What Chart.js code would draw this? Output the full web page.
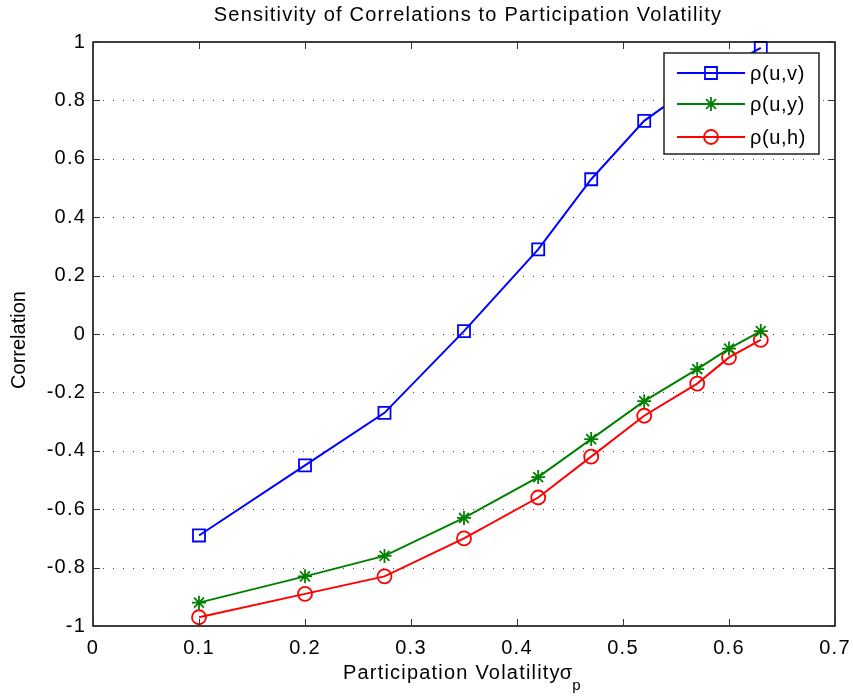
<!DOCTYPE html>
<html>
<head>
<meta charset="utf-8">
<script src="https://cdn.jsdelivr.net/npm/chart.js@4/dist/chart.umd.min.js"></script>
<style>
html,body{margin:0;padding:0;background:#fff;}
#wrap{width:853px;height:697px;position:relative;}
</style>
</head>
<body>
<div id="wrap"><canvas id="c" width="853" height="697"></canvas></div>
<script>
const sigmaP = [0.1, 0.2, 0.275, 0.35, 0.42, 0.47, 0.52, 0.57, 0.6, 0.63];
const rhoUV = [-0.69, -0.45, -0.27, 0.01, 0.29, 0.53, 0.73, 0.86, 0.92, 0.98];
const rhoUY = [-0.92, -0.83, -0.76, -0.63, -0.49, -0.36, -0.23, -0.12, -0.05, 0.01];
const rhoUH = [-0.97, -0.89, -0.83, -0.70, -0.56, -0.42, -0.28, -0.17, -0.08, -0.02];
const xTickLabels = ['0', '0.1', '0.2', '0.3', '0.4', '0.5', '0.6', '0.7'];
const yTickLabels = ['-1', '-0.8', '-0.6', '-0.4', '-0.2', '0', '0.2', '0.4', '0.6', '0.8', '1'];
const seriesNames = ['ρ(u,v)', 'ρ(u,y)', 'ρ(u,h)'];
const titleText = 'Sensitivity of Correlations to Participation Volatility';
const xLabelText = 'Participation Volatility';
const yLabelText = 'Correlation';

const FONT = '"Liberation Sans", Arial, Helvetica, sans-serif';
const FS = 20;
const SP = '1.2px';
const colors = ['#0000ff', '#008000', '#ff0000'];
const styles = ['rect', 'star', 'circle'];
const radii = [8.5, 7, 7];

function mk(vals, i) {
  return {
    label: seriesNames[i],
    data: sigmaP.map((x, k) => ({x: x, y: vals[k]})),
    borderColor: colors[i],
    backgroundColor: 'rgba(0,0,0,0)',
    pointBackgroundColor: 'rgba(0,0,0,0)',
    pointBorderColor: colors[i],
    pointStyle: styles[i],
    pointRadius: radii[i],
    pointHoverRadius: radii[i],
    pointBorderWidth: 1.8,
    borderWidth: 2,
    tension: 0,
    clip: false
  };
}

const matlabPlugin = {
  id: 'matlab',
  beforeUpdate(chart) { chart.ctx.letterSpacing = SP; },
  beforeDraw(chart) { chart.ctx.letterSpacing = SP; },
  beforeDatasetsDraw(chart) {
    const {ctx, chartArea: a, scales: {x, y}} = chart;
    ctx.save();
    ctx.strokeStyle = '#444';
    ctx.lineWidth = 1;
    ctx.setLineDash([1, 9]);
    yTickLabels.forEach(l => {
      const v = parseFloat(l);
      if (v <= -1 || v >= 1) return;
      const py = Math.round(y.getPixelForValue(v)) + 0.5;
      ctx.beginPath(); ctx.moveTo(a.left, py); ctx.lineTo(a.right, py); ctx.stroke();
    });
    ctx.restore();
  },
  afterDatasetsDraw(chart) {
    const {ctx, chartArea: a, scales: {x, y}} = chart;
    ctx.save();
    ctx.strokeStyle = '#000';
    ctx.lineWidth = 1.5;
    ctx.setLineDash([]);
    ctx.strokeRect(a.left, a.top, a.right - a.left, a.bottom - a.top);
    ctx.lineWidth = 1;
    ctx.strokeStyle = '#333';
    const tl = 7;
    xTickLabels.forEach(l => {
      const px = Math.round(x.getPixelForValue(parseFloat(l))) + 0.5;
      ctx.beginPath();
      ctx.moveTo(px, a.bottom); ctx.lineTo(px, a.bottom - tl);
      ctx.moveTo(px, a.top); ctx.lineTo(px, a.top + tl);
      ctx.stroke();
    });
    yTickLabels.forEach(l => {
      const py = Math.round(y.getPixelForValue(parseFloat(l))) + 0.5;
      ctx.beginPath();
      ctx.moveTo(a.left, py); ctx.lineTo(a.left + tl, py);
      ctx.moveTo(a.right, py); ctx.lineTo(a.right - tl, py);
      ctx.stroke();
    });
    // legend
    const L = {x0: 664, y0: 53, x1: 819, y1: 154};
    ctx.fillStyle = '#fff';
    ctx.fillRect(L.x0, L.y0, L.x1 - L.x0, L.y1 - L.y0);
    ctx.strokeStyle = '#222';
    ctx.lineWidth = 1.5;
    ctx.strokeRect(L.x0, L.y0, L.x1 - L.x0, L.y1 - L.y0);
    const rows = [73, 104, 137];
    ctx.font = FS + 'px ' + FONT;
    ctx.letterSpacing = '0.6px';
    ctx.textBaseline = 'middle';
    ctx.textAlign = 'left';
    chart.data.datasets.forEach((ds, i) => {
      const ry = rows[i];
      ctx.strokeStyle = ds.borderColor;
      ctx.lineWidth = 2;
      ctx.beginPath(); ctx.moveTo(677, ry); ctx.lineTo(745, ry); ctx.stroke();
      ctx.fillStyle = 'rgba(0,0,0,0)';
      ctx.lineWidth = 1.8;
      Chart.helpers.drawPoint(ctx, {pointStyle: ds.pointStyle, radius: ds.pointRadius, borderWidth: 1.8, rotation: 0}, 711, ry);
      ctx.fillStyle = '#000';
      ctx.fillText(ds.label, 750, ry + 1);
    });
    ctx.restore();
  },
  afterDraw(chart) {
    const {ctx, chartArea: a} = chart;
    ctx.save();
    ctx.fillStyle = '#000';
    ctx.letterSpacing = SP;
    ctx.font = FS + 'px ' + FONT;
    ctx.textAlign = 'center';
    ctx.textBaseline = 'alphabetic';
    ctx.fillText(titleText, 468, 21);
    // x label with sigma_p
    ctx.textAlign = 'left';
    ctx.font = FS + 'px ' + FONT;
    const w1 = ctx.measureText(xLabelText).width;
    const wS = ctx.measureText('σ').width;
    const sx = 343;
    ctx.fillText(xLabelText, sx, 679);
    ctx.fillText('σ', sx + w1 - 1, 679);
    ctx.font = '15px ' + FONT;
    ctx.fillText('p', sx + w1 + wS - 2, 690);
    // y label
    ctx.font = FS + 'px ' + FONT;
    ctx.letterSpacing = '0px';
    ctx.translate(25, 340);
    ctx.rotate(-Math.PI / 2);
    ctx.textAlign = 'center';
    ctx.fillText(yLabelText, 0, 0);
    ctx.restore();
  }
};

new Chart(document.getElementById('c'), {
  type: 'line',
  data: {datasets: [mk(rhoUV, 0), mk(rhoUY, 1), mk(rhoUH, 2)]},
  options: {
    responsive: false,
    animation: false,
    events: [],
    layout: {padding: {top: 42, right: 18, left: 0, bottom: 0}},
    plugins: {legend: {display: false}, title: {display: false}, tooltip: {enabled: false}},
    scales: {
      x: {
        type: 'linear', min: 0, max: 0.7,
        afterFit: s => { s.height = 71; s.paddingLeft = 0; s.paddingRight = 0; },
        afterBuildTicks: s => { s.ticks = xTickLabels.map(l => ({value: parseFloat(l)})); },
        grid: {display: false, drawTicks: false},
        border: {display: false},
        ticks: {
          padding: 10, color: '#000', maxRotation: 0, autoSkip: false,
          font: {family: FONT, size: FS},
          callback: (v, i) => xTickLabels[i]
        }
      },
      y: {
        type: 'linear', min: -1, max: 1,
        afterFit: s => { s.width = 93; s.paddingTop = 0; s.paddingBottom = 0; },
        afterBuildTicks: s => { s.ticks = yTickLabels.map(l => ({value: parseFloat(l)})); },
        grid: {display: false, drawTicks: false},
        border: {display: false},
        ticks: {
          padding: 7, color: '#000', autoSkip: false,
          font: {family: FONT, size: FS},
          callback: (v, i) => yTickLabels[i]
        }
      }
    }
  },
  plugins: [matlabPlugin]
});
</script>
</body>
</html>
